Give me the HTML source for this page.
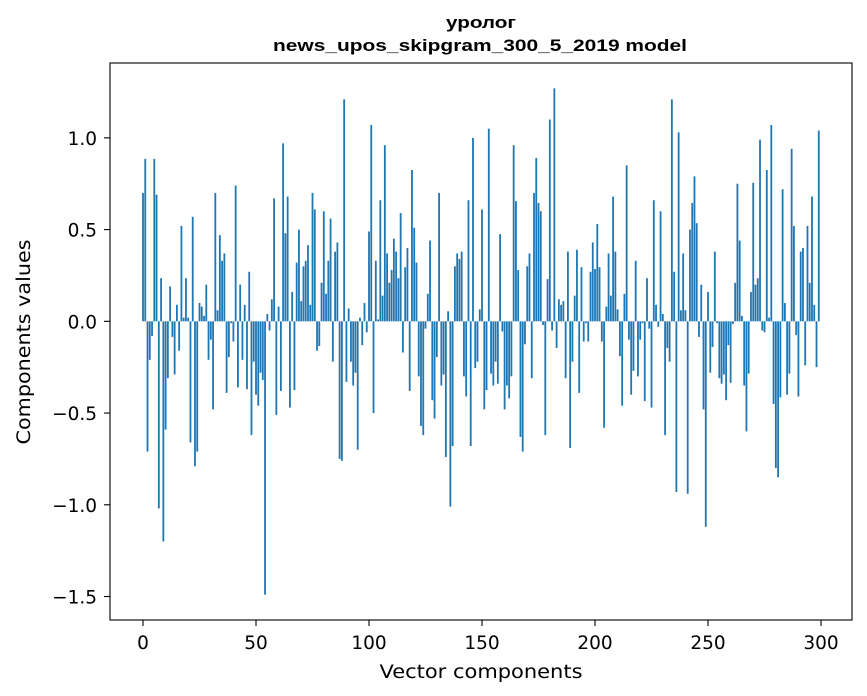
<!DOCTYPE html>
<html><head><meta charset="utf-8">
<style>
html,body{margin:0;padding:0;background:#fff;}
svg{display:block;font-family:"DejaVu Sans","Liberation Sans",sans-serif;}
</style></head>
<body>
<svg id="chart" width="867" height="696" viewBox="0 0 867 696" xmlns="http://www.w3.org/2000/svg">
<rect width="867" height="696" fill="#fff"/>
<text x="481" y="28" text-anchor="middle" font-size="17" font-weight="bold" font-family="Liberation Sans, DejaVu Sans, sans-serif" textLength="70" lengthAdjust="spacingAndGlyphs">уролог</text>
<text x="480" y="51" text-anchor="middle" font-size="17" font-weight="bold" font-family="Liberation Sans, DejaVu Sans, sans-serif" textLength="414" lengthAdjust="spacingAndGlyphs">news_upos_skipgram_300_5_2019 model</text>
<g id="bars"></g>
<g id="axes"></g>
<text x="481" y="678" text-anchor="middle" font-size="18.5" textLength="203" lengthAdjust="spacingAndGlyphs">Vector components</text>
<text transform="translate(30,342) rotate(-90)" text-anchor="middle" font-size="18.5" textLength="205" lengthAdjust="spacingAndGlyphs">Components values</text>
</svg>
<script>
const values = [
0.70,0.885,-0.71,-0.21,-0.08,0.885,0.69,-1.02,0.235,-1.2,
-0.59,-0.31,0.19,-0.085,-0.29,0.09,-0.16,0.52,0.02,0.235,
0.02,-0.66,0.57,-0.79,-0.71,0.10,0.08,0.03,0.20,-0.21,
-0.10,-0.48,0.70,0.06,0.47,0.33,0.37,-0.39,-0.195,-0.01,
-0.11,0.74,-0.36,0.20,-0.21,0.09,-0.37,0.27,-0.62,-0.22,
-0.40,-0.46,-0.28,-0.32,-1.49,0.04,-0.05,0.12,0.67,-0.51,
0.08,-0.38,0.97,0.48,0.68,-0.47,0.16,-0.375,0.32,0.50,
0.11,0.30,0.33,0.415,0.09,0.70,0.61,-0.16,-0.135,0.21,
0.60,0.15,0.33,0.56,-0.22,0.38,0.43,-0.75,-0.76,1.21,
-0.33,0.07,-0.22,-0.35,-0.28,-0.70,0.02,-0.13,0.10,-0.06,
0.49,1.07,-0.50,0.33,0.01,0.66,0.14,0.96,0.37,0.21,
0.28,0.45,0.38,0.235,0.59,-0.17,0.295,0.40,-0.38,0.825,
0.51,0.32,-0.30,-0.57,-0.62,-0.04,0.15,0.44,-0.43,-0.53,
-0.195,0.70,-0.35,-0.29,-0.74,0.055,-1.01,-0.68,0.30,0.37,
0.34,0.38,-0.30,-0.41,0.66,-0.68,1.0,-0.255,-0.22,0.065,
0.61,-0.48,-0.375,1.05,-0.285,-0.35,-0.22,-0.34,0.475,-0.055,
-0.48,-0.35,-0.42,-0.30,0.96,0.655,0.28,-0.63,-0.71,-0.125,
0.30,0.37,-0.31,0.70,0.89,0.645,0.60,-0.02,-0.62,0.23,
1.10,-0.05,1.27,-0.145,0.12,0.09,0.11,-0.31,0.38,-0.69,
-0.22,0.14,0.39,-0.39,0.295,-0.11,-0.01,-0.11,0.27,0.43,
0.285,0.53,0.295,-0.11,-0.58,0.08,0.37,0.14,0.68,0.38,
0.065,-0.19,-0.46,0.15,0.85,-0.10,-0.40,-0.27,0.33,-0.30,
-0.10,-0.01,-0.435,0.235,-0.04,-0.47,0.66,0.09,-0.03,0.60,
0.04,-0.62,-0.145,-0.22,1.21,0.27,-0.93,1.03,0.06,0.37,
0.06,-0.94,0.50,0.645,0.79,0.535,-0.085,0.20,-0.48,-1.12,
0.16,-0.28,-0.14,0.38,-0.01,-0.31,-0.34,-0.29,-0.43,-0.13,
-0.335,-0.015,0.21,0.75,0.44,0.03,-0.35,-0.60,-0.285,0.16,
0.755,0.20,0.235,0.99,-0.05,-0.06,0.825,0.02,1.07,-0.45,
-0.80,-0.85,-0.415,0.72,0.10,-0.40,-0.285,0.94,0.52,-0.075,
-0.41,0.38,0.40,-0.24,0.52,0.21,0.68,0.09,-0.25,1.04
];
const xTicks = [0,50,100,150,200,250,300];
const yTicks = [-1.5,-1.0,-0.5,0.0,0.5,1.0];
const yTickLabels = ["\u22121.5","\u22121.0","\u22120.5","0.0","0.5","1.0"];

const NS = "http://www.w3.org/2000/svg";
const L = 110, R = 852, T = 63, B = 620;
const xMin = -14.6, xMax = 313.7, yMin = -1.628, yMax = 1.408;
function xs(v){ return L + (v - xMin) / (xMax - xMin) * (R - L); }
function ys(v){ return B - (v - yMin) / (yMax - yMin) * (B - T); }

const barsG = document.getElementById('bars');
values.forEach((v, i) => {
  const r = document.createElementNS(NS, 'rect');
  const x0 = xs(i - 0.4), x1 = xs(i + 0.4);
  const y0 = ys(Math.max(v, 0)), y1 = ys(Math.min(v, 0));
  r.setAttribute('x', x0);
  r.setAttribute('width', x1 - x0);
  r.setAttribute('y', y0);
  r.setAttribute('height', Math.max(y1 - y0, 0.3));
  r.setAttribute('fill', '#1f77b4');
  
  
  barsG.appendChild(r);
});

const ax = document.getElementById('axes');
const frame = document.createElementNS(NS, 'rect');
frame.setAttribute('x', L); frame.setAttribute('y', T);
frame.setAttribute('width', R - L); frame.setAttribute('height', B - T);
frame.setAttribute('fill', 'none'); frame.setAttribute('stroke', '#000'); frame.setAttribute('stroke-width', '1.1');


ax.appendChild(frame);

xTicks.forEach(t => {
  const x = xs(t);
  const ln = document.createElementNS(NS, 'line');
  ln.setAttribute('x1', x); ln.setAttribute('x2', x);
  ln.setAttribute('y1', B); ln.setAttribute('y2', B + 6);
  ln.setAttribute('stroke', '#000'); ln.setAttribute('stroke-width', '1.1');
  
  
  ax.appendChild(ln);
  const tx = document.createElementNS(NS, 'text');
  tx.setAttribute('x', x); tx.setAttribute('y', B + 29);
  tx.setAttribute('text-anchor', 'middle'); tx.setAttribute('font-size', '18.5');
  tx.textContent = String(t);
  
  
  ax.appendChild(tx);
});
yTicks.forEach((t, i) => {
  const y = ys(t);
  const ln = document.createElementNS(NS, 'line');
  ln.setAttribute('x1', L - 6); ln.setAttribute('x2', L);
  ln.setAttribute('y1', y); ln.setAttribute('y2', y);
  ln.setAttribute('stroke', '#000'); ln.setAttribute('stroke-width', '1.1');
  
  
  ax.appendChild(ln);
  const tx = document.createElementNS(NS, 'text');
  tx.setAttribute('x', L - 13); tx.setAttribute('y', y + 7);
  tx.setAttribute('text-anchor', 'end'); tx.setAttribute('font-size', '18.5');
  tx.textContent = yTickLabels[i];
  
  
  ax.appendChild(tx);
});
</script>
</body></html>
